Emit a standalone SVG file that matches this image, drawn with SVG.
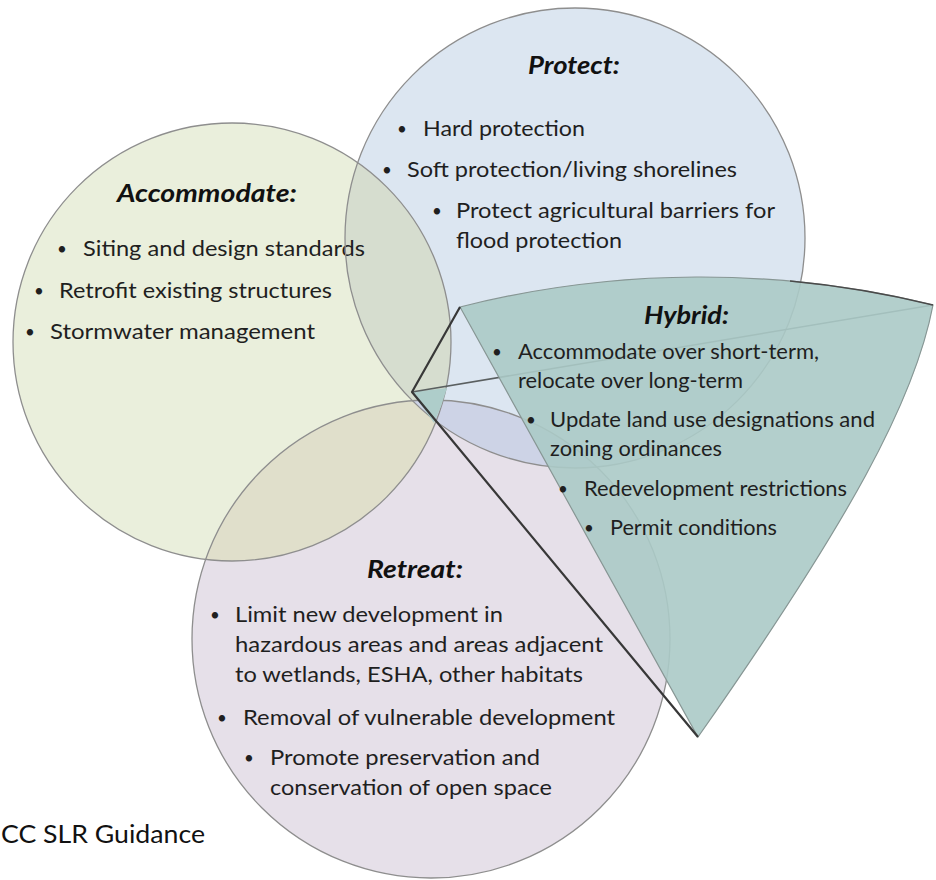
<svg xmlns="http://www.w3.org/2000/svg" width="936" height="880" viewBox="0 0 936 880">
  <style>
    .t { font-family: Lato, "Open Sans", "DejaVu Sans", sans-serif; font-size: 22px; fill: #1f1f1f; }
    .b { font-family: Lato, "Open Sans", "DejaVu Sans", sans-serif; font-size: 17px; fill: #1f1f1f; text-anchor: middle; }
    .h { font-family: Lato, "Open Sans", "DejaVu Sans", sans-serif; font-size: 24px; font-weight: bold; font-style: italic; fill: #111; text-anchor: middle; }
    .foot { font-family: Lato, "Open Sans", "DejaVu Sans", sans-serif; font-size: 25px; fill: #111; }
    .outline { fill: none; stroke: #8e8e8e; stroke-width: 1.3; }
  </style>
  <defs>
    <clipPath id="clip-acc"><circle cx="232" cy="342" r="219"/></clipPath>
    <clipPath id="clip-prot"><circle cx="575" cy="238" r="230"/></clipPath>
  </defs>

  <rect width="936" height="880" fill="#ffffff"/>

  <!-- circle fills and their overlaps -->
  <g id="fills">
    <circle cx="232" cy="342" r="219" fill="#eaefdc"/>
    <circle cx="575" cy="238" r="230" fill="#dce6f1"/>
    <circle cx="431" cy="639" r="239" fill="#e6e0e9"/>
    <circle cx="575" cy="238" r="230" fill="#d6ddcf" clip-path="url(#clip-acc)"/>
    <circle cx="431" cy="639" r="239" fill="#e0dfcb" clip-path="url(#clip-acc)"/>
    <circle cx="431" cy="639" r="239" fill="#cdd3e6" clip-path="url(#clip-prot)"/>
  </g>

  <g id="accommodate">
    <circle class="outline" cx="232" cy="342" r="219"/>
    <text class="h" x="207" y="202" textLength="180" lengthAdjust="spacingAndGlyphs">Accommodate:</text>
    <text class="b" x="62" y="255">•</text>
    <text class="t" x="83" y="256" textLength="282" lengthAdjust="spacingAndGlyphs">Siting and design standards</text>
    <text class="b" x="39" y="297">•</text>
    <text class="t" x="59" y="298" textLength="273" lengthAdjust="spacingAndGlyphs">Retrofit existing structures</text>
    <text class="b" x="30" y="338">•</text>
    <text class="t" x="50" y="339" textLength="265" lengthAdjust="spacingAndGlyphs">Stormwater management</text>
  </g>

  <g id="protect">
    <circle class="outline" cx="575" cy="238" r="230"/>
    <text class="h" x="574" y="74" textLength="92" lengthAdjust="spacingAndGlyphs">Protect:</text>
    <text class="b" x="402" y="135">•</text>
    <text class="t" x="423" y="136" textLength="162" lengthAdjust="spacingAndGlyphs">Hard protection</text>
    <text class="b" x="387" y="176">•</text>
    <text class="t" x="407" y="177" textLength="330" lengthAdjust="spacingAndGlyphs">Soft protection/living shorelines</text>
    <text class="b" x="437" y="217">•</text>
    <text class="t" x="456" y="218" textLength="319" lengthAdjust="spacingAndGlyphs">Protect agricultural barriers for</text>
    <text class="t" x="456" y="248" textLength="166" lengthAdjust="spacingAndGlyphs">flood protection</text>
  </g>

  <g id="retreat">
    <circle class="outline" cx="431" cy="639" r="239"/>
    <text class="h" x="415" y="578" textLength="96" lengthAdjust="spacingAndGlyphs">Retreat:</text>
    <text class="b" x="215" y="621">•</text>
    <text class="t" x="235" y="622" textLength="268" lengthAdjust="spacingAndGlyphs">Limit new development in</text>
    <text class="t" x="235" y="652" textLength="368" lengthAdjust="spacingAndGlyphs">hazardous areas and areas adjacent</text>
    <text class="t" x="235" y="682" textLength="348" lengthAdjust="spacingAndGlyphs">to wetlands, ESHA, other habitats</text>
    <text class="b" x="222" y="724">•</text>
    <text class="t" x="243" y="725" textLength="372" lengthAdjust="spacingAndGlyphs">Removal of vulnerable development</text>
    <text class="b" x="249" y="764">•</text>
    <text class="t" x="270" y="765" textLength="270" lengthAdjust="spacingAndGlyphs">Promote preservation and</text>
    <text class="t" x="270" y="795" textLength="282" lengthAdjust="spacingAndGlyphs">conservation of open space</text>
  </g>

  <g id="hybrid">
    <!-- small shaded piece at the vertex, inside the Accommodate circle -->
    <path d="M412,392 L447,388 A219,219 0 0 1 434,423 Z" fill="#aecdca"/>
    <!-- line from the vertex to the far corner, seen through the fan -->
    <path d="M412,392 L933,305" fill="none" stroke="#5a5f60" stroke-width="1.6"/>
    <!-- fan shape -->
    <path d="M460,307 A979,979 0 0 1 933,305 C915,400 850,520 698,737 Z" fill="#abcac6" fill-opacity="0.9" stroke="#879694" stroke-width="1.2"/>
    <path d="M790,281 A979,979 0 0 1 933,305" fill="none" stroke="#4a4a4a" stroke-width="1.4"/>
    <!-- dark edge lines -->
    <path d="M460,307 L412,392 L698,737" fill="none" stroke="#383838" stroke-width="2.2" stroke-linejoin="round"/>
    <text class="h" x="686.5" y="324" textLength="85" lengthAdjust="spacingAndGlyphs">Hybrid:</text>
    <text class="b" x="497" y="358">•</text>
    <text class="t" x="518" y="359" textLength="301" lengthAdjust="spacingAndGlyphs">Accommodate over short-term,</text>
    <text class="t" x="518" y="388" textLength="225" lengthAdjust="spacingAndGlyphs">relocate over long-term</text>
    <text class="b" x="531" y="426">•</text>
    <text class="t" x="550" y="427" textLength="325" lengthAdjust="spacingAndGlyphs">Update land use designations and</text>
    <text class="t" x="550" y="456" textLength="172" lengthAdjust="spacingAndGlyphs">zoning ordinances</text>
    <text class="b" x="563" y="495">•</text>
    <text class="t" x="584" y="496" textLength="263" lengthAdjust="spacingAndGlyphs">Redevelopment restrictions</text>
    <text class="b" x="589" y="534">•</text>
    <text class="t" x="610" y="535" textLength="167" lengthAdjust="spacingAndGlyphs">Permit conditions</text>
  </g>

  <text class="foot" x="1" y="843" textLength="204" lengthAdjust="spacingAndGlyphs">CC SLR Guidance</text>
</svg>
